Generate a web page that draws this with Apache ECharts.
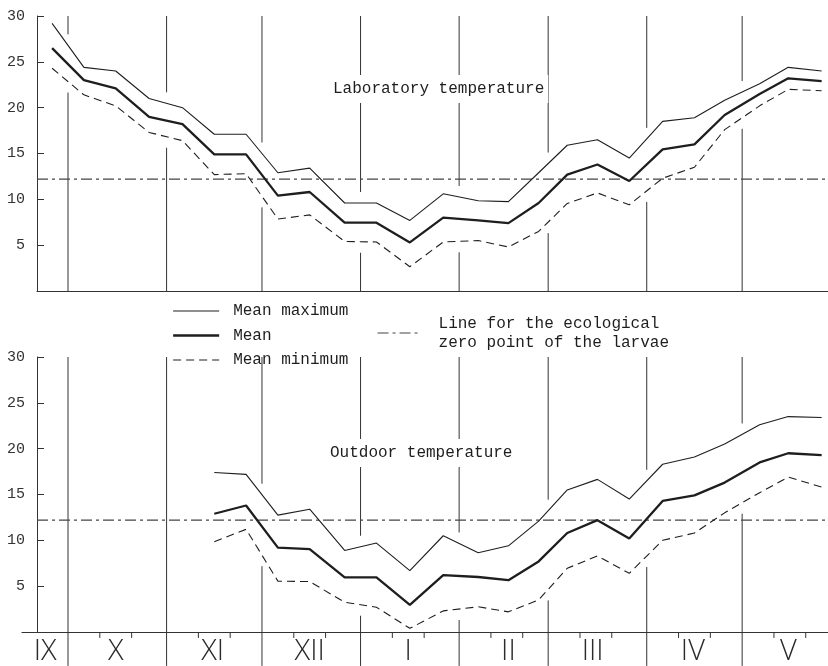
<!DOCTYPE html>
<html>
<head>
<meta charset="utf-8">
<script src="https://cdn.jsdelivr.net/npm/echarts@6/dist/echarts.min.js"></script>
<style>
html, body { margin: 0; padding: 0; background: #fff; }
#chart { width: 828px; height: 666px; }
</style>
</head>
<body>
<div id="chart"></div>
<script>
// x is counted in days from 1 September; points sit in the middle of each 10-day period
var decadeDay = [25, 35, 45, 55.5, 66, 76, 86, 96, 106, 117, 127, 137.5, 148,
                 159, 168.5, 178, 187, 196.5, 206.5, 217, 227, 236.5, 247.5, 256.5, 267];

// laboratory, IX (3rd decade) .. V
var labMax  = [29.2, 24.4, 24.0, 21.0, 20.0, 17.1, 17.1, 12.9, 13.4, 9.6, 9.6, 7.7, 10.6,
               9.85, 9.75, 12.9, 15.9, 16.5, 14.5, 18.5, 18.9, 20.8, 22.6, 24.4, 24.0];
var labMean = [26.5, 23.0, 22.1, 19.0, 18.2, 14.9, 14.9, 10.4, 10.8, 7.45, 7.45, 5.3, 8.0,
               7.7, 7.4, 9.6, 12.7, 13.8, 12.0, 15.45, 16.0, 19.2, 21.5, 23.2, 22.9];
var labMin  = [24.3, 21.4, 20.2, 17.3, 16.4, 12.7, 12.8, 7.85, 8.3, 5.4, 5.35, 2.65, 5.35,
               5.5, 4.8, 6.5, 9.55, 10.7, 9.4, 12.3, 13.5, 17.6, 20.2, 22.0, 21.85];

// outdoor, from XI (2nd decade) .. V
var outDay  = decadeDay.slice(5);
var outMax  = [17.4, 17.2, 12.75, 13.4, 8.9, 9.7, 6.7, 10.5, 8.65, 9.4,
               12.1, 15.5, 16.65, 14.5, 18.3, 19.1, 20.5, 22.6, 23.5, 23.4];
var outMean = [12.9, 13.8, 9.2, 9.05, 5.95, 5.95, 2.95, 6.2, 6.0, 5.65,
               7.7, 10.8, 12.2, 10.2, 14.3, 14.9, 16.3, 18.5, 19.5, 19.3];
var outMin  = [9.85, 11.2, 5.55, 5.5, 3.25, 2.7, 0.4, 2.3, 2.75, 2.2,
               3.5, 6.95, 8.3, 6.4, 10.0, 10.8, 13.0, 15.2, 16.9, 15.8];

var ecoZero = 12.2;

var monthStart  = [30, 61, 91, 122, 153, 181, 212, 242];
var monthNames  = ['IX', 'X', 'XI', 'XII', 'I', 'II', 'III', 'IV', 'V'];
var monthMid    = [22.8, 45, 75.5, 106, 137, 168.5, 195, 226.5, 256.5];
var decadeTicks = [40, 50, 71, 81, 101, 111, 132, 142, 163, 173, 191, 201, 222, 232, 252, 262];

var ECO_NAME = 'Line for the ecological\nzero point of the larvae';
var INK = '#1e1e1e';
var MONO = '"Liberation Mono", "DejaVu Sans Mono", monospace';

var pairs = function (xs, ys) {
	return ys.map(function (v, i) { return [xs[i], v]; });
};

// where the curves cross a vertical line, the drawing leaves a gap
var bandAt = function (d, xs, hi, lo) {
	for (var i = 0; i < xs.length - 1; i++) {
		if (d >= xs[i] && d <= xs[i + 1]) {
			var t = (d - xs[i]) / (xs[i + 1] - xs[i]);
			return [lo[i] + t * (lo[i + 1] - lo[i]), hi[i] + t * (hi[i + 1] - hi[i])];
		}
	}
	return null;
};

var monthLines = function (idx, xs, hi, lo, yTop, yBottom) {
	return {
		type: 'custom', xAxisIndex: idx, yAxisIndex: idx, silent: true, z: 1,
		encode: { x: 0, y: 1 },
		data: monthStart.map(function (d) { return [d, 0]; }),
		renderItem: function (params, api) {
			var d = api.value(0);
			var x = api.coord([d, 0])[0];
			var yT = api.coord([d, yTop])[1], yB = api.coord([d, yBottom])[1];
			var band = bandAt(d, xs, hi, lo);
			var segs = band
				? [[yT, api.coord([d, band[1] + 1.2])[1]], [api.coord([d, band[0] - 1.2])[1], yB]]
				: [[yT, yB]];
			return {
				type: 'group',
				children: segs.map(function (s) {
					return { type: 'line', shape: { x1: x, y1: s[0], x2: x, y2: s[1] },
						style: { stroke: '#333', lineWidth: 1 } };
				})
			};
		}
	};
};

var trio = function (idx, xs, mx, mn, lo) {
	var base = { type: 'line', xAxisIndex: idx, yAxisIndex: idx, symbol: 'none', z: 3,
		silent: true, connectNulls: false };
	return [
		Object.assign({}, base, { name: 'Mean maximum', data: pairs(xs, mx),
			lineStyle: { color: INK, width: 1.1 }, itemStyle: { color: INK } }),
		Object.assign({}, base, { name: 'Mean', data: pairs(xs, mn),
			lineStyle: { color: INK, width: 2.3 }, itemStyle: { color: INK } }),
		Object.assign({}, base, { name: 'Mean minimum', data: pairs(xs, lo),
			lineStyle: { color: INK, width: 1.1, type: [8, 5] }, itemStyle: { color: INK } }),
		Object.assign({}, base, { name: ECO_NAME, z: 2, data: [[20.25, ecoZero], [269, ecoZero]],
			lineStyle: { color: '#444', width: 1.1, type: [11, 4, 3, 4] }, itemStyle: { color: '#444' } })
	];
};

var yAx = function (idx, offset) {
	return {
		type: 'value', gridIndex: idx, min: 0, max: 30, interval: 5, offset: offset,
		axisLine: { show: true, lineStyle: { color: '#333', width: 1 } },
		axisTick: { show: true, inside: true, length: 7, lineStyle: { color: '#333' } },
		axisLabel: { margin: 12, color: '#333', fontFamily: MONO, fontSize: 15,
			formatter: function (v) { return v === 0 ? '' : v; } },
		splitLine: { show: false }
	};
};

var xAx = function (idx, min) {
	return {
		type: 'value', gridIndex: idx, min: min, max: 269,
		axisLine: { show: true, onZero: false, lineStyle: { color: '#333', width: 1.2 } },
		axisTick: { show: false }, axisLabel: { show: false }, splitLine: { show: false }
	};
};

// legend shows only the line sample, no marker
var hiddenMarker = { opacity: 0, color: 'rgba(0,0,0,0)', borderWidth: 0 };

var chart = echarts.init(document.getElementById('chart'), null, { renderer: 'canvas' });

var option = {
	animation: false,
	backgroundColor: '#fff',
	grid: [
		{ left: 37, right: 0, top: 16, height: 275, outerBoundsMode: 'none' },
		{ left: 22, right: 0, top: 357, height: 275, outerBoundsMode: 'none' }
	],
	xAxis: [xAx(0, 20.25), xAx(1, 15.53)],
	yAxis: [yAx(0, 0), yAx(1, -15)],
	title: [
		{ text: 'Laboratory temperature', left: 329, top: 75, padding: [6, 4],
			backgroundColor: '#fff', z: 10,
			textStyle: { fontFamily: MONO, fontSize: 16, fontWeight: 'normal', color: INK } },
		{ text: 'Outdoor temperature', left: 326, top: 439, padding: [6, 4],
			backgroundColor: '#fff', z: 10,
			textStyle: { fontFamily: MONO, fontSize: 16, fontWeight: 'normal', color: INK } }
	],
	legend: [
		{ data: [
				{ name: 'Mean maximum', lineStyle: { color: INK, opacity: 1, width: 1.1 } },
				{ name: 'Mean', lineStyle: { color: INK, opacity: 1, width: 2.3 } },
				{ name: 'Mean minimum', lineStyle: { color: INK, opacity: 1, width: 1.1, type: [8, 5] } }
			], orient: 'vertical',
			left: 172, top: 303, padding: 0, itemWidth: 46, itemHeight: 14, itemGap: 8.5,
			selectedMode: false, itemStyle: hiddenMarker,
			textStyle: { fontFamily: MONO, fontSize: 16, color: INK, padding: [0, 0, 0, 9] } },
		{ data: [{ name: ECO_NAME, lineStyle: { color: '#444', opacity: 1, width: 1.1, type: [11, 4, 3, 4] } }],
			left: 377, top: 314, padding: 0, itemWidth: 43, itemHeight: 14,
			selectedMode: false, itemStyle: hiddenMarker,
			textStyle: { fontFamily: MONO, fontSize: 16, color: INK, lineHeight: 19,
				padding: [0, 0, 0, 13] } }
	],
	series: [].concat(
		[monthLines(0, decadeDay, labMax, labMin, 30, 0)],
		trio(0, decadeDay, labMax, labMean, labMin),
		[monthLines(1, outDay, outMax, outMin, 30, -3.7)],
		trio(1, outDay, outMax, outMean, outMin),
		[{
			type: 'custom', xAxisIndex: 1, yAxisIndex: 1, silent: true, z: 1,
			encode: { x: 0, y: 1 },
			data: decadeTicks.map(function (d) { return [d, 0]; }),
			renderItem: function (params, api) {
				var p0 = api.coord([api.value(0), 0]);
				var p1 = api.coord([api.value(0), -0.65]);
				return { type: 'line', shape: { x1: p0[0], y1: p0[1], x2: p1[0], y2: p1[1] },
					style: { stroke: '#333', lineWidth: 1 } };
			}
		}, {
			type: 'custom', xAxisIndex: 1, yAxisIndex: 1, silent: true, z: 1,
			encode: { x: 0, y: 1 },
			data: monthMid.map(function (d, i) { return [d, -2.2, monthNames[i]]; }),
			renderItem: function (params, api) {
				var p = api.coord([api.value(0), api.value(1)]);
				return { type: 'text', x: p[0], y: p[1],
					style: { text: monthNames[params.dataIndex], fill: '#2a2a2a',
						font: '300 29px "Open Sans", "Lato", "Liberation Sans", sans-serif',
						align: 'center', verticalAlign: 'middle' } };
			}
		}]
	)
};

chart.setOption(option);
</script>
</body>
</html>
